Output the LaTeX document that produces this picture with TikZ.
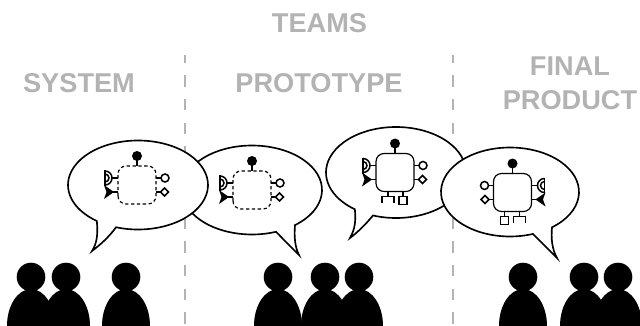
\documentclass[tikz,border=0pt]{standalone}
\usepackage{fontspec}
\setmainfont{Liberation Sans}
\definecolor{labelgray}{HTML}{B3B3B3}
\tikzset{
  heading/.style={text=labelgray,font=\bfseries\fontsize{23.2}{29}\selectfont,align=center,inner sep=0pt},
  divider/.style={labelgray,line width=1.2pt,dash pattern=on 9.8pt off 10.45pt,dash phase=3pt},
  bubble/.style={draw=black,fill=white,line width=1.4pt,line join=miter},
  port/.style={black,line width=1.3pt},
  solidbox/.style={line width=1pt},
  dashbox/.style={line width=1pt,dash pattern=on 2.8pt off 2.2pt}
}
% one component, centred on the current origin
\newcommand{\component}[1]{
  \draw[black,#1,rounded corners=2.4mm] (-19,-19) rectangle (19,19);
  \draw[port] (0,19)--(0,25);
  \fill[black] (0,29) circle (5);
  \draw[port] (19,7)--(24,7);
  \draw[port] (28,7) circle (4);
  \draw[port] (19,-7)--(23.5,-7);
  \draw[port] (23.5,-7)--(27.5,-3)--(31.5,-7)--(27.5,-11)--cycle;
  \draw[port] (-19,7)--(-25,7);
  \draw[port] (-32,15)--(-32,-1);
  \draw[port] (-32,14) arc (90:-90:7);
  \draw[port] (-32,11) arc (90:-90:4);
  \draw[port] (-19,-7)--(-25,-7);
  \fill[black] (-23,-7)--(-33,0)--(-30.5,-7)--(-33,-14)--cycle;
}
\newcommand{\bottomports}{
  \draw[port] (-7,-19)--(-7,-24);
  \draw[port] (-13,-30)--(-13,-24)--(-1,-24)--(-1,-30);
  \draw[port] (8,-19)--(8,-24);
  \draw[port] (4,-24) rectangle (12,-32);
}

\begin{document}
\begin{tikzpicture}[x=0.03cm,y=0.03cm]
  \useasboundingbox (0,0) rectangle (640,325);
  \node[heading] (teams) at (319.5,302) {TEAMS};
  \node[heading] (system) at (79,242) {SYSTEM};
  \node[heading] (prototype) at (319,242) {PROTOTYPE};
  \node[heading] (final) at (570,242) {FINAL\\PRODUCT};
  \draw[divider] (185,270)--(185,0);
  \draw[divider] (453,270)--(453,0);
  % people
  \foreach \px in {31,66,126,278,325,359,523,584,618}{
    \fill[black] (\px,48) circle (14.3);
    \fill[black] (\px-24,-1) arc (180:0:24 and 37) -- cycle;
  }
  % speech bubbles, back to front
  \draw[bubble] (252,135) ++(307.9:70 and 44.5) arc (307.9:650.1:70 and 44.5)
    .. controls (283,86) and (291,78) .. (299,70)
    .. controls (295,78) and (294,88) .. cycle;
  \draw[bubble] (138,140) ++(251.7:70 and 44.5) arc (251.7:594:70 and 44.5)
    .. controls (98,90) and (97,82) .. (92,74)
    .. controls (100,80) and (109,88) .. cycle;
  \draw[bubble] (396,152.5) ++(250.8:70 and 45.5) arc (250.8:594:70 and 45.5)
    .. controls (356,104) and (355,96) .. (350,87)
    .. controls (358,93) and (366,101) .. cycle;
  \draw[bubble] (510,133) ++(307.5:69 and 44.5) arc (307.5:649.5:69 and 44.5)
    .. controls (540,84) and (549,75) .. (557,67)
    .. controls (552,76) and (551,86) .. cycle;
  % components
  \begin{scope}[shift={(137,140)}]
    \component{dashbox}
  \end{scope}
  \begin{scope}[shift={(252,135)}]
    \component{dashbox}
  \end{scope}
  \begin{scope}[shift={(395,152.5)}]
    \component{solidbox}
    \bottomports
  \end{scope}
  \begin{scope}[shift={(512.5,132.5)},xscale=-1]
    \component{solidbox}
    \bottomports
  \end{scope}
\end{tikzpicture}
\end{document}
